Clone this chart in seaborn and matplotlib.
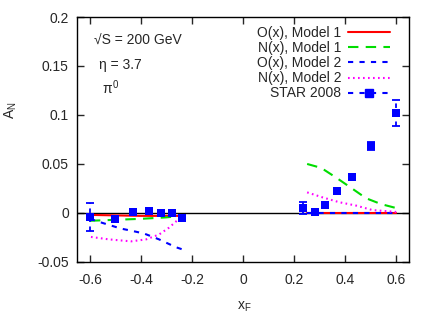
import numpy as np
import pandas as pd
import matplotlib
matplotlib.use("Agg")
import matplotlib.pyplot as plt
import seaborn as sns
from matplotlib.lines import Line2D

# STAR 2008 data
star_x = [-0.60, -0.50, -0.43, -0.37, -0.32, -0.28, -0.24,
          0.235, 0.282, 0.322, 0.369, 0.427, 0.502, 0.60]
star_y = [-0.004, -0.006, 0.001, 0.002, 0.000, 0.000, -0.005,
          0.005, 0.001, 0.008, 0.022, 0.037, 0.068, 0.102]
star_err = [0.014, 0.003, 0.002, 0.002, 0.002, 0.002, 0.003,
            0.006, 0.002, 0.002, 0.002, 0.002, 0.004, 0.013]

# O(x), Model 1
o1_left_x = [-0.60, -0.50, -0.40, -0.30, -0.24]
o1_left_y = [-0.002, -0.0025, -0.003, -0.003, -0.003]
o1_right_x = [0.25, 0.35, 0.45, 0.55, 0.60]
o1_right_y = [0.0, 0.0, 0.0, 0.0, 0.0]

# N(x), Model 1
n1_left_x = [-0.60, -0.50, -0.40, -0.30, -0.24]
n1_left_y = [-0.008, -0.007, -0.006, -0.0045, -0.003]
n1_right_x = [0.251, 0.306, 0.365, 0.424, 0.482, 0.541, 0.60]
n1_right_y = [0.050, 0.046, 0.036, 0.0255, 0.015, 0.009, 0.005]

# O(x), Model 2
o2_left_x = [-0.60, -0.553, -0.478, -0.44, -0.388, -0.329, -0.263, -0.24]
o2_left_y = [-0.006, -0.010, -0.016, -0.018, -0.021, -0.027, -0.035, -0.037]
o2_right_x = [0.25, 0.35, 0.45, 0.55, 0.60]
o2_right_y = [0.0, 0.0, 0.0, 0.0, 0.0]

# N(x), Model 2
n2_left_x = [-0.596, -0.525, -0.439, -0.38, -0.329, -0.29, -0.251, -0.24]
n2_left_y = [-0.0245, -0.027, -0.029, -0.027, -0.022, -0.015, -0.006, -0.004]
n2_right_x = [0.251, 0.31, 0.376, 0.443, 0.506, 0.60]
n2_right_y = [0.021, 0.016, 0.011, 0.0075, 0.003, 0.001]

x_ticks = [-0.6, -0.4, -0.2, 0, 0.2, 0.4, 0.6]
x_labels = ["-0.6", "-0.4", "-0.2", "0", "0.2", "0.4", "0.6"]
y_ticks = [-0.05, 0, 0.05, 0.1, 0.15, 0.2]
y_labels = ["-0.05", "0", "0.05", "0.1", "0.15", "0.2"]

sns.set_style("ticks")
plt.rcParams['font.family'] = ['Liberation Sans', 'DejaVu Sans']
plt.rcParams['mathtext.fontset'] = 'custom'
plt.rcParams['mathtext.rm'] = 'Liberation Sans'
plt.rcParams['mathtext.it'] = 'Liberation Sans'

fig = plt.figure(figsize=(4.36, 3.27), dpi=100)
ax = fig.add_axes([0.177, 0.199, 0.761, 0.749])

fs = 10
ax.axhline(0, color='black', lw=1.0, zorder=1)

curves = [
    (o1_left_x, o1_left_y, o1_right_x, o1_right_y, '#ff0000', None),
    (n1_left_x, n1_left_y, n1_right_x, n1_right_y, '#00dd00', (5, 3.5)),
    (o2_left_x, o2_left_y, o2_right_x, o2_right_y, '#0000ff', (2.5, 3)),
    (n2_left_x, n2_left_y, n2_right_x, n2_right_y, '#ff00ff', (0.8, 1.6)),
]
handles = []
names = ["O(x), Model 1", "N(x), Model 1", "O(x), Model 2", "N(x), Model 2"]
for (lx, ly, rx, ry, col, dash), name in zip(curves, names):
    for xs, ys in ((lx, ly), (rx, ry)):
        df = pd.DataFrame({'x': xs, 'y': ys})
        line = sns.lineplot(data=df, x='x', y='y', ax=ax, color=col, lw=1.5,
                            sort=False, estimator=None, zorder=3).lines[-1]
        if dash is not None:
            line.set_dashes(dash)
    h = Line2D([], [], color=col, lw=1.5)
    if dash is not None:
        h.set_dashes(dash)
    handles.append(h)

# STAR data with dashed error bars
eb = ax.errorbar(star_x, star_y, yerr=star_err, fmt='none', ecolor='#0000ff',
                 elinewidth=1.3, capsize=3, capthick=1.3, zorder=4)
for lc in eb[2]:
    lc.set_linestyle((0, (2.5, 2.5)))
sns.scatterplot(x=star_x, y=star_y, ax=ax, marker='s', s=32, color='#0000ff',
                edgecolor='#0000ff', linewidth=0, zorder=5)
hs = Line2D([], [], color='#0000ff', lw=1.5, marker='s', markersize=5.5)
hs.set_dashes((2.5, 3))
handles.append(hs)
names.append("STAR 2008")

leg = ax.legend(handles, names, loc='upper right', bbox_to_anchor=(0.97, 1.0),
                frameon=False, markerfirst=False, fontsize=fs, handlelength=3.0,
                labelspacing=0.08, handletextpad=0.5, borderaxespad=0.25)
for t in leg.get_texts():
    t.set_ha('right')
leg._legend_box.align = 'right'

ax.text(-0.585, 0.176, '√S = 200 GeV', fontsize=fs, va='center')
ax.text(-0.565, 0.1515, 'η = 3.7', fontsize=fs, va='center')
ax.text(-0.552, 0.128, r'$\pi^0$', fontsize=fs, va='center')

ax.set_xlim(-0.65, 0.65)
ax.set_ylim(-0.05, 0.2)
ax.set_xticks(x_ticks)
ax.set_xticklabels(x_labels)
ax.set_yticks(y_ticks)
ax.set_yticklabels(y_labels)
ax.tick_params(direction='in', top=True, right=True, length=5, width=1,
               labelsize=fs)
ax.tick_params(axis='x', pad=8)
ax.tick_params(axis='y', pad=6)
for sp in ax.spines.values():
    sp.set_linewidth(1.0)
    sp.set_color('black')
ax.set_xlabel(r'x$_{\rm F}$', fontsize=fs)
ax.set_ylabel(r'A$_{\rm N}$', fontsize=fs)
ax.xaxis.set_label_coords(0.503, -0.155)
ax.yaxis.set_label_coords(-0.175, 0.62)

fig.savefig('out.png', dpi=100)
